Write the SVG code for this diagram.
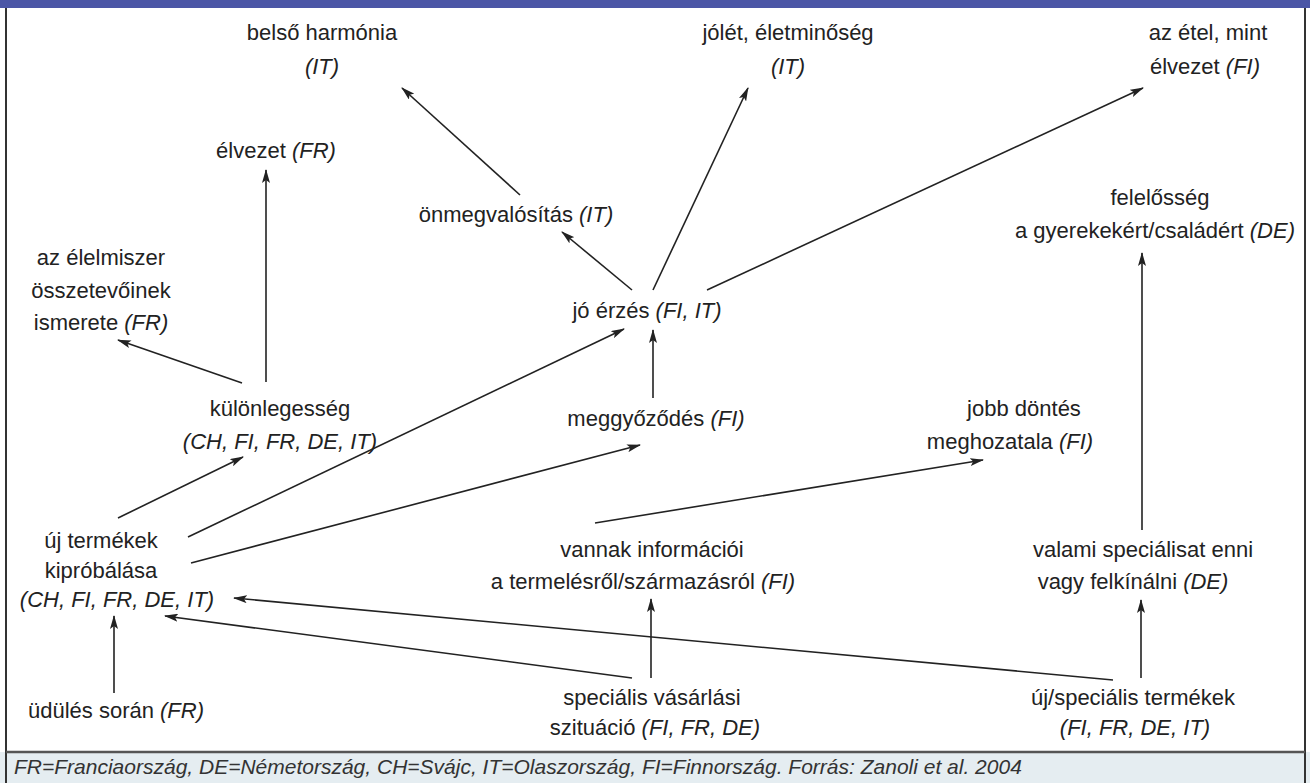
<svg xmlns="http://www.w3.org/2000/svg" width="1310" height="783" viewBox="0 0 1310 783">
<style>
text{font-family:"Liberation Sans",Arial,sans-serif;font-size:22px;fill:#222;text-anchor:middle}
.i{font-style:italic}
.cap{font-size:21px;font-style:italic;text-anchor:start;fill:#333}
.c line{stroke:#222;stroke-width:1.6;marker-end:url(#ah)}
</style>
<defs>
<marker id="ah" viewBox="0 0 14 8" refX="13" refY="4" markerWidth="14" markerHeight="8" markerUnits="userSpaceOnUse" orient="auto">
<path d="M0,0 L14,4 L0,8 L3,4 Z" fill="#222"/>
</marker>
</defs>
<rect x="0" y="0" width="1310" height="783" fill="#fff"/>
<rect x="0" y="752" width="1310" height="31" fill="#e5edf1"/>
<rect x="0" y="0" width="1310" height="8" fill="#4b56a6"/>
<line x1="6" y1="8" x2="6" y2="783" stroke="#333" stroke-width="2"/>
<line x1="1305" y1="8" x2="1305" y2="783" stroke="#333" stroke-width="2"/>
<line x1="6" y1="752" x2="1305" y2="752" stroke="#555" stroke-width="2.5"/>
<text class="cap" x="14" y="774">FR=Franciaország, DE=Németország, CH=Svájc, IT=Olaszország, FI=Finnország. Forrás: Zanoli et al. 2004</text>

<g class="c" id="connectors">
<line x1="520" y1="195" x2="402" y2="88"/>
<line x1="632" y1="290" x2="562" y2="232"/>
<line x1="653" y1="290" x2="748" y2="88"/>
<line x1="707" y1="290" x2="1143" y2="88"/>
<line x1="266" y1="382" x2="266" y2="170"/>
<line x1="242" y1="383" x2="118" y2="340"/>
<line x1="653" y1="398" x2="653" y2="330"/>
<line x1="118" y1="518" x2="243" y2="457"/>
<line x1="188" y1="537" x2="624" y2="329"/>
<line x1="191" y1="563" x2="640" y2="445"/>
<line x1="595" y1="523" x2="983" y2="460"/>
<line x1="1142" y1="530" x2="1142" y2="253"/>
<line x1="1141" y1="678" x2="1141" y2="600"/>
<line x1="651" y1="678" x2="651" y2="599"/>
<line x1="632" y1="678" x2="165" y2="616"/>
<line x1="1113" y1="680" x2="234" y2="598"/>
<line x1="114" y1="693" x2="114" y2="616"/>
</g>

<g id="belso"><text x="322" y="40">belső harmónia</text><text class="i" x="322" y="74">(IT)</text></g>
<g id="jolet"><text x="788" y="40">jólét, életminőség</text><text class="i" x="788" y="74">(IT)</text></g>
<g id="etel"><text x="1208" y="40">az étel, mint</text><text x="1205" y="74">élvezet <tspan class="i">(FI)</tspan></text></g>
<g id="elvezet"><text x="276" y="158">élvezet <tspan class="i">(FR)</tspan></text></g>
<g id="onmeg"><text x="516" y="222">önmegvalósítás <tspan class="i">(IT)</tspan></text></g>
<g id="felelosseg"><text x="1160" y="205">felelősség</text><text x="1155" y="238">a gyerekekért/családért <tspan class="i">(DE)</tspan></text></g>
<g id="elelmiszer"><text x="101" y="265">az élelmiszer</text><text x="101" y="298">összetevőinek</text><text x="101" y="330">ismerete <tspan class="i">(FR)</tspan></text></g>
<g id="joerzes"><text x="647" y="318">jó érzés <tspan class="i">(FI, IT)</tspan></text></g>
<g id="kulonleges"><text x="280" y="416">különlegesség</text><text class="i" x="280" y="449">(CH, FI, FR, DE, IT)</text></g>
<g id="meggyozodes"><text x="656" y="426">meggyőződés <tspan class="i">(FI)</tspan></text></g>
<g id="jobb"><text x="1024" y="416">jobb döntés</text><text x="1010" y="449">meghozatala <tspan class="i">(FI)</tspan></text></g>
<g id="ujtermekek"><text x="101" y="548">új termékek</text><text x="101" y="578">kipróbálása</text><text class="i" x="117" y="607">(CH, FI, FR, DE, IT)</text></g>
<g id="informaciok"><text x="652" y="557">vannak információi</text><text x="643" y="589">a termelésről/származásról <tspan class="i">(FI)</tspan></text></g>
<g id="valami"><text x="1143" y="557">valami speciálisat enni</text><text x="1133" y="589">vagy felkínálni <tspan class="i">(DE)</tspan></text></g>
<g id="udules"><text x="116" y="718">üdülés során <tspan class="i">(FR)</tspan></text></g>
<g id="vasarlasi"><text x="652" y="705">speciális vásárlási</text><text x="655" y="735">szituáció <tspan class="i">(FI, FR, DE)</tspan></text></g>
<g id="ujspec"><text x="1133" y="705">új/speciális termékek</text><text class="i" x="1135" y="735">(FI, FR, DE, IT)</text></g>
</svg>
